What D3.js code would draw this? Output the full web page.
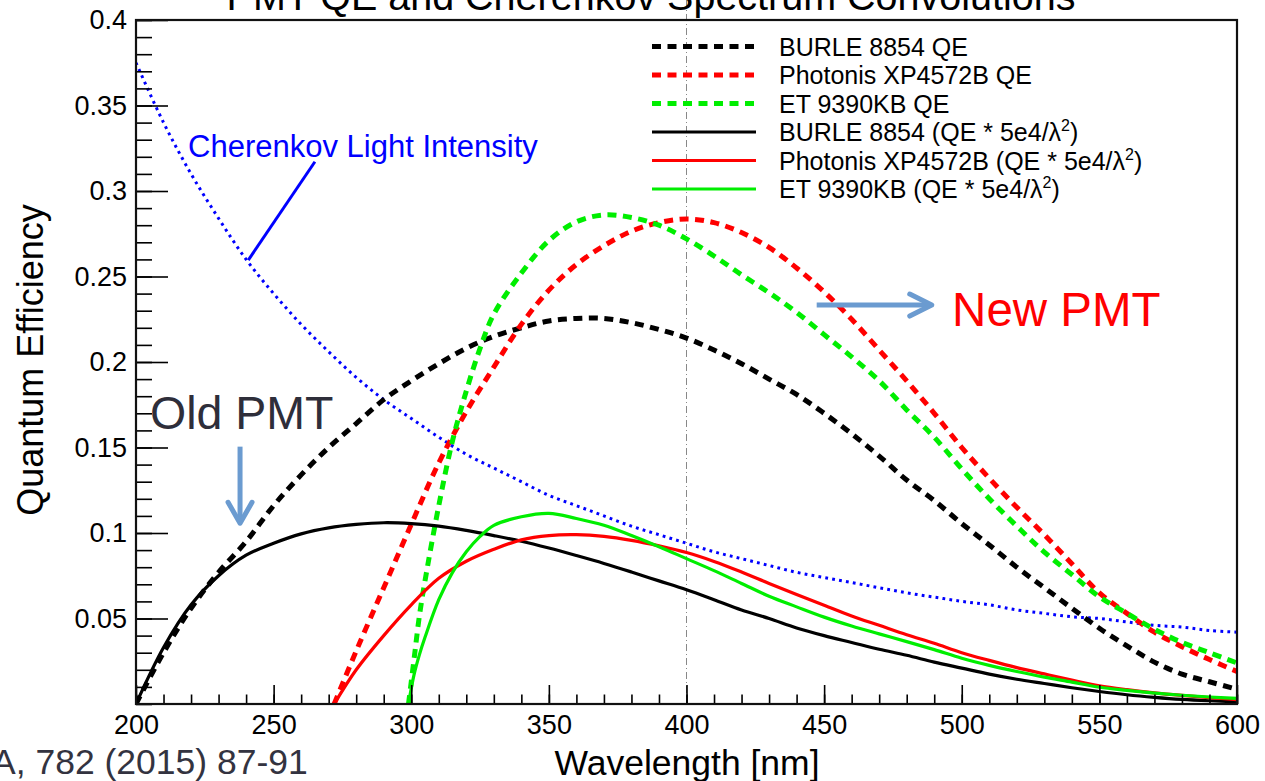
<!DOCTYPE html>
<html><head><meta charset="utf-8">
<script src="https://cdn.jsdelivr.net/npm/d3@7"></script>
<style>
body{margin:0;background:#fff;overflow:hidden;}
svg{display:block;}
text{font-family:"Liberation Sans",Arial,Helvetica,sans-serif;}
</style>
</head><body>
<svg id="chart" width="1265" height="781"></svg>
<script>
// ---------------- DATA ----------------
const xMajorTicks = [200,250,300,350,400,450,500,550,600];
const xTickLabels = ["200","250","300","350","400","450","500","550","600"];
const yMajorTicks = [0.05,0.1,0.15,0.2,0.25,0.3,0.35,0.4];
const yTickLabels = ["0.05","0.1","0.15","0.2","0.25","0.3","0.35","0.4"];

const burleWl = [200,210,220,230,240,250,260,270,280,290,300,310,320,330,340,350,360,370,380,390,400,410,420,430,440,450,460,470,480,490,500,510,520,530,540,550,560,570,580,590,600];
const burleQE = [0,0.030,0.056,0.077,0.095,0.116,0.134,0.150,0.164,0.178,0.189,0.199,0.208,0.215,0.220,0.224,0.2255,0.2255,0.223,0.219,0.214,0.207,0.199,0.190,0.181,0.170,0.158,0.145,0.131,0.119,0.1055,0.093,0.080,0.068,0.056,0.0443,0.034,0.0245,0.0175,0.013,0.0086];
const burleConv = [0,0.033,0.058,0.075,0.087,0.094,0.0995,0.103,0.105,0.106,0.1055,0.104,0.1015,0.0985,0.0952,0.0912,0.0868,0.0822,0.0772,0.072,0.0668,0.061,0.055,0.050,0.0445,0.040,0.036,0.032,0.0285,0.0245,0.021,0.0175,0.0145,0.012,0.0095,0.0073,0.0054,0.0039,0.0027,0.0019,0.0013];

const photonisWl = [272,280,290,300,310,320,330,340,350,360,370,380,390,400,410,420,430,440,450,460,470,480,490,500,510,520,530,540,550,560,570,580,590,600];
const photonisQE = [0,0.031,0.068,0.105,0.141,0.171,0.197,0.222,0.242,0.257,0.268,0.2765,0.2815,0.2836,0.2815,0.2757,0.267,0.255,0.241,0.225,0.207,0.189,0.170,0.150,0.132,0.115,0.099,0.082,0.065,0.053,0.042,0.0335,0.026,0.019];
const photonisConv = [0,0.020,0.040,0.058,0.0735,0.0835,0.0905,0.096,0.0985,0.099,0.098,0.0957,0.0925,0.0886,0.0834,0.0772,0.0705,0.064,0.0578,0.0515,0.046,0.0405,0.0355,0.030,0.0255,0.0213,0.0176,0.014,0.0107,0.0084,0.0065,0.005,0.0037,0.0026];

const etWl = [299,301,303,305,310,315,320,325,330,340,350,360,370,380,390,400,410,420,430,440,450,460,470,480,490,500,510,520,530,540,550,560,570,580,590,600];
const etQE = [0,0.026,0.052,0.072,0.116,0.154,0.183,0.208,0.228,0.252,0.271,0.282,0.286,0.2845,0.280,0.272,0.262,0.251,0.2405,0.229,0.216,0.203,0.189,0.172,0.156,0.1375,0.120,0.104,0.0888,0.0757,0.0627,0.053,0.0437,0.036,0.030,0.024];
const etConv = [0,0.017,0.029,0.039,0.061,0.077,0.089,0.098,0.1045,0.1095,0.1115,0.1085,0.1045,0.0985,0.092,0.085,0.078,0.0705,0.063,0.0568,0.0508,0.0456,0.041,0.0365,0.0318,0.0268,0.0226,0.019,0.0157,0.0128,0.0098,0.008,0.0064,0.0051,0.0041,0.0033];

const cherenkovWl = [200,210,220,230,240,250,260,270,280,290,300,310,320,330,340,350,360,370,380,390,400,410,420,430,440,450,460,470,480,490,500,510,520,530,540,550,560,570,580,590,600];
const cherenkovIntensity = [0.375,0.340,0.310,0.284,0.260,0.240,0.222,0.206,0.191,0.178,0.167,0.156,0.146,0.138,0.130,0.122,0.116,0.110,0.104,0.099,0.094,0.089,0.085,0.081,0.077,0.074,0.071,0.068,0.065,0.0625,0.060,0.058,0.055,0.053,0.051,0.050,0.048,0.046,0.045,0.043,0.042];

const legendLabels = ["BURLE 8854 QE","Photonis XP4572B QE","ET 9390KB QE","BURLE 8854 (QE * 5e4/λ","Photonis XP4572B (QE * 5e4/λ","ET 9390KB (QE * 5e4/λ"];
const legendColors = ["#000000","#ff0000","#00ee00","#000000","#ff0000","#00ee00"];
const legendDashed = [true,true,true,false,false,false];

const markerWavelength = 400;

// ---------------- LAYOUT ----------------
const svg = d3.select("#chart");
const L = 136, R = 1237, T = 20, B = 704;
const x = d3.scaleLinear().domain([200,600]).range([L,R]);
const y = d3.scaleLinear().domain([0,0.4]).range([B,T]);

svg.append("defs").append("clipPath").attr("id","plotclip")
  .append("rect").attr("x",L).attr("y",T).attr("width",R-L).attr("height",B-T);

// marker line at 400 nm (extends above frame, dash-dot)
svg.append("line")
  .attr("x1",x(markerWavelength)).attr("x2",x(markerWavelength))
  .attr("y1",0).attr("y2",B)
  .attr("stroke","#888").attr("stroke-width",1)
  .attr("stroke-dasharray","7,3,1,3");

const line = d3.line().x(d=>x(d[0])).y(d=>y(d[1])).curve(d3.curveCatmullRom.alpha(0.5));
const zipS = (a,b)=>a.map((v,i)=>[v,b[i]]);
const g = svg.append("g").attr("clip-path","url(#plotclip)");

// Cherenkov dotted
g.append("path").attr("d",line(zipS(cherenkovWl,cherenkovIntensity)))
  .attr("fill","none").attr("stroke","#0000ff").attr("stroke-width",3)
  .attr("stroke-dasharray","2.8,4.2");

const dashedSeries = [[burleWl,burleQE,legendColors[0]],[photonisWl,photonisQE,legendColors[1]],[etWl,etQE,legendColors[2]]];
const solidSeries = [[burleWl,burleConv,legendColors[3]],[photonisWl,photonisConv,legendColors[4]],[etWl,etConv,legendColors[5]]];

dashedSeries.forEach(s=>{
  g.append("path").attr("d",line(zipS(s[0],s[1])))
   .attr("fill","none").attr("stroke",s[2]).attr("stroke-width",5)
   .attr("stroke-dasharray","9,6.5");
});
solidSeries.forEach(s=>{
  g.append("path").attr("d",line(zipS(s[0],s[1])))
   .attr("fill","none").attr("stroke",s[2]).attr("stroke-width",3.2);
});

// ---------------- AXES ----------------
const xMinor = d3.range(200,601,10);
const yMinor = d3.range(0,0.4001,0.01).map(v=>+v.toFixed(2));

const xAxisMinor = d3.axisBottom(x).tickValues(xMinor).tickSizeInner(-9.5).tickSizeOuter(0).tickFormat("");
const xAxisMajor = d3.axisBottom(x).tickValues(xMajorTicks).tickSizeInner(-19).tickSizeOuter(0)
  .tickPadding(11).tickFormat((d,i)=>xTickLabels[i]);
const yAxisMinor = d3.axisLeft(y).tickValues(yMinor).tickSizeInner(-16).tickSizeOuter(0).tickFormat("");
const yAxisMajor = d3.axisLeft(y).tickValues(yMajorTicks).tickSizeInner(-32).tickSizeOuter(0)
  .tickPadding(9).tickFormat((d,i)=>yTickLabels[i]);

function styleAxis(sel){
  sel.selectAll(".domain").remove();
  sel.selectAll("line").attr("stroke","#000").attr("stroke-width",1.6);
  sel.selectAll("text").attr("fill","#000").style("font-size","27px")
     .style("font-family",'"Liberation Sans",Arial,sans-serif');
}
svg.append("g").attr("transform",`translate(0,${B})`).call(xAxisMinor).call(styleAxis);
svg.append("g").attr("transform",`translate(0,${B})`).call(xAxisMajor).call(styleAxis);
svg.append("g").attr("transform",`translate(${L},0)`).call(yAxisMinor).call(styleAxis);
svg.append("g").attr("transform",`translate(${L},0)`).call(yAxisMajor).call(styleAxis);

// frame
svg.append("rect").attr("x",L).attr("y",T).attr("width",R-L).attr("height",B-T)
  .attr("fill","none").attr("stroke","#111").attr("stroke-width",2.2);

// ---------------- TEXT ----------------
svg.append("text").attr("x",651).attr("y",10).attr("text-anchor","middle")
  .style("font-size","39.5px").attr("fill","#000")
  .text("PMT QE and Cherenkov Spectrum Convolutions");

svg.append("text").attr("transform","translate(43,360) rotate(-90)").attr("text-anchor","middle")
  .style("font-size","36px").attr("fill","#000").text("Quantum Efficiency");

svg.append("text").attr("x",687).attr("y",775).attr("text-anchor","middle")
  .style("font-size","35.5px").attr("fill","#000").text("Wavelength [nm]");

svg.append("text").attr("x",-8).attr("y",774)
  .style("font-size","35.5px").attr("fill","#333340").text("A, 782 (2015) 87-91");

// ---------------- LEGEND ----------------
const legX1 = 652, legX2 = 756, legTextX = 779, legY0 = 46.5, legDy = 28.5;
legendLabels.forEach((lab,i)=>{
  const yy = legY0 + i*legDy;
  svg.append("line").attr("x1",legX1).attr("x2",legX2).attr("y1",yy).attr("y2",yy)
    .attr("stroke",legendColors[i]).attr("stroke-width",legendDashed[i]?5:3.2)
    .attr("stroke-dasharray",legendDashed[i]?"9,6.5":null);
  const t = svg.append("text").attr("x",legTextX).attr("y",yy+9)
    .style("font-size","25px").attr("fill","#000");
  t.append("tspan").text(lab);
  if(!legendDashed[i]){
    t.append("tspan").attr("dy",-10).style("font-size","16px").text("2");
    t.append("tspan").attr("dy",10).text(")");
  }
});

// ---------------- ANNOTATIONS ----------------
const annBlue = "#0000ff", arrowCol = "#6b9bd0";
svg.append("text").attr("x",x(218.9)).attr("y",y(0.320))
  .style("font-size","31px").attr("fill",annBlue).text("Cherenkov Light Intensity");
svg.append("line").attr("x1",x(265.0)).attr("y1",y(0.3171)).attr("x2",x(240.8)).attr("y2",y(0.2596))
  .attr("stroke",annBlue).attr("stroke-width",3);

svg.append("text").attr("x",x(205.1)).attr("y",y(0.1608))
  .style("font-size","46.5px").attr("fill","#2e2e3a").text("Old PMT");
// down arrow
const oa = {x:x(237.8), y1:y(0.1505), y2:y(0.1057)};
svg.append("line").attr("x1",oa.x).attr("x2",oa.x).attr("y1",oa.y1).attr("y2",oa.y2-2)
  .attr("stroke",arrowCol).attr("stroke-width",5);
svg.append("path").attr("d",`M${oa.x-12},${oa.y2-21} L${oa.x},${oa.y2} L${oa.x+12},${oa.y2-21}`)
  .attr("fill","none").attr("stroke",arrowCol).attr("stroke-width",5).attr("stroke-linecap","round").attr("stroke-linejoin","round");

svg.append("text").attr("x",x(496.5)).attr("y",y(0.221))
  .style("font-size","47.5px").attr("fill","#ff0000").text("New PMT");
const na = {x1:x(447.3), x2:x(489.1), y:y(0.2333)};
svg.append("line").attr("x1",na.x1).attr("x2",na.x2-2).attr("y1",na.y).attr("y2",na.y)
  .attr("stroke",arrowCol).attr("stroke-width",5);
svg.append("path").attr("d",`M${na.x2-22},${na.y-11} L${na.x2},${na.y} L${na.x2-22},${na.y+11}`)
  .attr("fill","none").attr("stroke",arrowCol).attr("stroke-width",5).attr("stroke-linecap","round").attr("stroke-linejoin","round");
</script>
</body></html>
